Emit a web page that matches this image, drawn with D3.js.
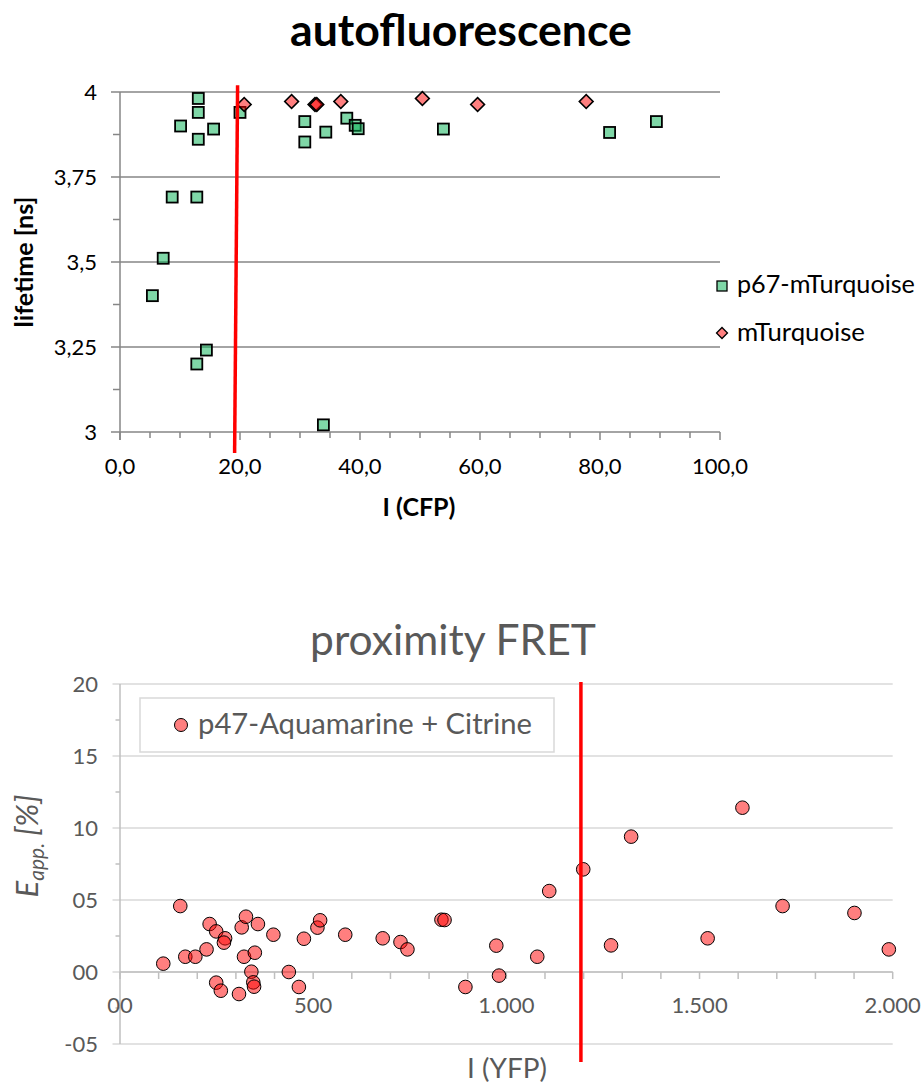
<!DOCTYPE html>
<html>
<head>
<meta charset="utf-8">
<script src="https://cdn.jsdelivr.net/npm/d3@7"></script>
<style>
  html, body { margin: 0; padding: 0; background: #fff; }
  svg { display: block; font-family: Lato, "Noto Sans", sans-serif; }
</style>
</head>
<body>
<svg id="chart" width="922" height="1086"></svg>
<script>
// ---------- Top chart data: autofluorescence ----------
const p67X = [13.05, 13.05, 10.1, 15.6, 13.05, 8.7, 12.8, 7.2, 5.4, 14.4, 12.8, 33.9, 20.0, 30.8, 30.8, 34.3, 37.8, 39.2, 39.7, 53.9, 81.6, 89.4];
const p67Y = [3.981, 3.94, 3.90, 3.891, 3.861, 3.691, 3.691, 3.511, 3.401, 3.241, 3.20, 3.021, 3.94, 3.913, 3.853, 3.882, 3.923, 3.902, 3.892, 3.891, 3.881, 3.913];
const mTurqX = [20.7, 28.6, 32.5, 32.8, 36.8, 50.4, 59.6, 77.7];
const mTurqY = [3.963, 3.972, 3.963, 3.963, 3.972, 3.981, 3.963, 3.972];
const topXTicks = [0, 20, 40, 60, 80, 100];
const topXTickLabels = ["0,0", "20,0", "40,0", "60,0", "80,0", "100,0"];
const topYTicks = [3, 3.25, 3.5, 3.75, 4];
const topYTickLabels = ["3", "3,25", "3,5", "3,75", "4"];
const topRedLineX = [19.6, 19.1];
const topRedLineY = [4.02, 2.938];
const topSeriesNames = ["p67-mTurquoise", "mTurquoise"];

// ---------- Bottom chart data: proximity FRET ----------
const fretX = [112, 156, 169, 195, 224, 232, 249, 272, 269, 249, 261, 308, 315, 326, 321, 340, 345, 347, 349, 357, 397, 437, 463, 476, 511, 518, 583, 680, 726, 744, 832, 840, 894, 974, 981, 1080, 1111, 1199, 1271, 1323, 1521, 1611, 1715, 1901, 1990];
const fretY = [0.58, 4.58, 1.06, 1.06, 1.57, 3.33, 2.82, 2.34, 2.04, -0.74, -1.30, -1.53, 3.10, 3.84, 1.06, 0.02, -0.72, -1.02, 1.34, 3.33, 2.59, 0.0, -1.04, 2.31, 3.08, 3.59, 2.59, 2.34, 2.08, 1.57, 3.63, 3.61, -1.04, 1.83, -0.25, 1.06, 5.62, 7.13, 1.85, 9.40, 2.34, 11.41, 4.58, 4.10, 1.57];
const botXTicks = [0, 500, 1000, 1500, 2000];
const botXTickLabels = ["00", "500", "1.000", "1.500", "2.000"];
const botYTicks = [-5, 0, 5, 10, 15, 20];
const botYTickLabels = ["-05", "00", "05", "10", "15", "20"];
const botRedLineX = [1193, 1193];
const botRedLineY = [20.14, -6.25];
const botSeriesName = "p47-Aquamarine + Citrine";

const svg = d3.select("#chart");

function fitText(sel, targetW) {
  const node = sel.node();
  const w = node.getComputedTextLength();
  const fs = parseFloat(sel.attr("font-size"));
  if (w > 0) sel.attr("font-size", (fs * targetW / w).toFixed(2));
  return sel;
}

// ================= TOP CHART =================
{
  const x = d3.scaleLinear().domain([0, 100]).range([120, 720]);
  const y = d3.scaleLinear().domain([3, 4]).range([432, 92]);
  const g = svg.append("g");
  const axisCol = "#868686";

  // title
  fitText(g.append("text").attr("x", 461).attr("y", 46).attr("text-anchor", "middle")
    .attr("font-size", 42).attr("font-weight", "bold").attr("fill", "#000")
    .text("autofluorescence"), 342);

  // gridlines (major)
  g.selectAll(".grid").data(topYTicks).join("line")
    .attr("x1", 111).attr("x2", x(100))
    .attr("y1", d => y(d)).attr("y2", d => y(d))
    .attr("stroke", axisCol).attr("stroke-width", 1.5);
  // minor y ticks
  const minorY = d3.range(3.125, 4, 0.25);
  g.selectAll(".my").data(minorY).join("line")
    .attr("x1", 113).attr("x2", 120)
    .attr("y1", d => y(d)).attr("y2", d => y(d))
    .attr("stroke", axisCol).attr("stroke-width", 1.5);
  // y axis line
  g.append("line").attr("x1", 120).attr("x2", 120).attr("y1", y(4)).attr("y2", y(3) + 8)
    .attr("stroke", axisCol).attr("stroke-width", 1.5);
  // x ticks
  const xt = d3.range(0, 100.1, 5);
  g.selectAll(".xt").data(xt).join("line")
    .attr("x1", d => x(d)).attr("x2", d => x(d))
    .attr("y1", y(3)).attr("y2", d => y(3) + (d % 20 === 0 ? 8 : 6))
    .attr("stroke", axisCol).attr("stroke-width", 1.5);

  // tick labels
  g.selectAll(".yl").data(topYTicks).join("text")
    .attr("x", 97).attr("y", d => y(d)).attr("dy", "0.35em")
    .attr("text-anchor", "end").attr("font-size", 22).attr("fill", "#000")
    .text((d, i) => topYTickLabels[i]);
  g.selectAll(".xl").data(topXTicks).join("text")
    .attr("x", d => x(d)).attr("y", 474)
    .attr("text-anchor", "middle").attr("font-size", 22).attr("fill", "#000")
    .text((d, i) => topXTickLabels[i]);

  // axis titles
  fitText(g.append("text").attr("x", 419).attr("y", 516).attr("text-anchor", "middle")
    .attr("font-size", 20).attr("font-weight", "bold").text("I (CFP)"), 73);
  fitText(g.append("text").attr("transform", "translate(33,262) rotate(-90)")
    .attr("text-anchor", "middle").attr("font-size", 20).attr("font-weight", "bold")
    .text("lifetime [ns]"), 131);

  // squares
  const sq = 11;
  g.selectAll(".sq").data(p67X.map((v, i) => [v, p67Y[i]])).join("rect")
    .attr("x", d => x(d[0]) - sq / 2).attr("y", d => y(d[1]) - sq / 2)
    .attr("width", sq).attr("height", sq)
    .attr("fill", "rgba(0,176,80,0.5)").attr("stroke", "#000").attr("stroke-width", 1.8);

  // diamonds
  const dm = d3.symbol().type(d3.symbolSquare).size(95);
  g.selectAll(".dm").data(mTurqX.map((v, i) => [v, mTurqY[i]])).join("path")
    .attr("d", dm)
    .attr("transform", d => `translate(${x(d[0])},${y(d[1])}) rotate(45)`)
    .attr("fill", "rgba(255,0,0,0.5)").attr("stroke", "#000").attr("stroke-width", 1.6);

  // red line
  g.append("line")
    .attr("x1", x(topRedLineX[0])).attr("y1", y(topRedLineY[0]))
    .attr("x2", x(topRedLineX[1])).attr("y2", y(topRedLineY[1]))
    .attr("stroke", "#ff0000").attr("stroke-width", 3.5);

  // legend
  const lg = g.append("g");
  lg.append("rect").attr("x", 717).attr("y", 281).attr("width", 10).attr("height", 10)
    .attr("fill", "rgba(0,176,80,0.5)").attr("stroke", "#000").attr("stroke-width", 1.3);
  fitText(lg.append("text").attr("x", 737).attr("y", 293).attr("font-size", 22)
    .text(topSeriesNames[0]), 178);
  lg.append("path").attr("d", d3.symbol().type(d3.symbolSquare).size(60))
    .attr("transform", "translate(722,333) rotate(45)")
    .attr("fill", "rgba(255,0,0,0.5)").attr("stroke", "#000").attr("stroke-width", 1.3);
  fitText(lg.append("text").attr("x", 737).attr("y", 341).attr("font-size", 22)
    .text(topSeriesNames[1]), 128);
}

// ================= BOTTOM CHART =================
{
  const x = d3.scaleLinear().domain([0, 2000]).range([120, 892.7]);
  const y = d3.scaleLinear().domain([-5, 20]).range([1044, 684]);
  const g = svg.append("g");
  const gridCol = "#d9d9d9";
  const axisCol = "#bfbfbf";
  const txtCol = "#595959";

  fitText(g.append("text").attr("x", 453).attr("y", 655).attr("text-anchor", "middle")
    .attr("font-size", 38).attr("font-weight", 400).attr("fill", txtCol)
    .text("proximity FRET"), 286);

  // gridlines
  g.selectAll(".grid").data(botYTicks).join("line")
    .attr("x1", 112.5).attr("x2", x(2000))
    .attr("y1", d => y(d)).attr("y2", d => y(d))
    .attr("stroke", gridCol).attr("stroke-width", 1.5);
  // minor y ticks
  const minorY = d3.range(-2.5, 20, 5);
  g.selectAll(".my").data(minorY).join("line")
    .attr("x1", 115.5).attr("x2", 120)
    .attr("y1", d => y(d)).attr("y2", d => y(d))
    .attr("stroke", axisCol).attr("stroke-width", 1.5);
  // y axis line
  g.append("line").attr("x1", 120).attr("x2", 120).attr("y1", y(20)).attr("y2", y(-5))
    .attr("stroke", axisCol).attr("stroke-width", 1.5);
  // x axis line at 0
  g.append("line").attr("x1", 120).attr("x2", x(2000)).attr("y1", y(0)).attr("y2", y(0))
    .attr("stroke", axisCol).attr("stroke-width", 1.5);
  const xt = d3.range(0, 2000.1, 100);
  g.selectAll(".xt").data(xt).join("line")
    .attr("x1", d => x(d)).attr("x2", d => x(d))
    .attr("y1", y(0)).attr("y2", y(0) + 7)
    .attr("stroke", axisCol).attr("stroke-width", 1.5);

  // tick labels
  g.selectAll(".yl").data(botYTicks).join("text")
    .attr("x", 98).attr("y", d => y(d)).attr("dy", "0.35em")
    .attr("text-anchor", "end").attr("font-size", 22).attr("fill", txtCol)
    .text((d, i) => botYTickLabels[i]);
  g.selectAll(".xl").data(botXTicks).join("text")
    .attr("x", d => x(d)).attr("y", 1013)
    .attr("text-anchor", "middle").attr("font-size", 22).attr("fill", txtCol)
    .text((d, i) => botXTickLabels[i]);

  // axis titles
  fitText(g.append("text").attr("x", 507).attr("y", 1078).attr("text-anchor", "middle")
    .attr("font-size", 26).attr("fill", txtCol).text("I (YFP)"), 80);
  const yt = g.append("text").attr("transform", "translate(38,846) rotate(-90)")
    .attr("text-anchor", "middle").attr("font-size", 31).attr("font-style", "italic")
    .attr("fill", txtCol);
  yt.append("tspan").text("E");
  yt.append("tspan").attr("font-size", 21).attr("dy", 6).text("app.");
  yt.append("tspan").attr("dy", -6).text(" [%]");

  // legend
  g.append("rect").attr("x", 140).attr("y", 698).attr("width", 414).attr("height", 54)
    .attr("fill", "#fff").attr("stroke", gridCol).attr("stroke-width", 1.5);
  g.append("circle").attr("cx", 181).attr("cy", 725).attr("r", 6.5)
    .attr("fill", "rgba(255,0,0,0.5)").attr("stroke", "#000").attr("stroke-width", 1);
  fitText(g.append("text").attr("x", 198).attr("y", 734).attr("font-size", 27)
    .attr("fill", txtCol).text(botSeriesName), 334);

  // points
  g.selectAll(".pt").data(fretX.map((v, i) => [v, fretY[i]])).join("circle")
    .attr("cx", d => x(d[0])).attr("cy", d => y(d[1])).attr("r", 6.8)
    .attr("fill", "rgba(255,0,0,0.5)").attr("stroke", "#000").attr("stroke-width", 1);

  // red line
  g.append("line")
    .attr("x1", x(botRedLineX[0])).attr("y1", y(botRedLineY[0]))
    .attr("x2", x(botRedLineX[1])).attr("y2", y(botRedLineY[1]))
    .attr("stroke", "#ff0000").attr("stroke-width", 3.5);
}
</script>
</body>
</html>
